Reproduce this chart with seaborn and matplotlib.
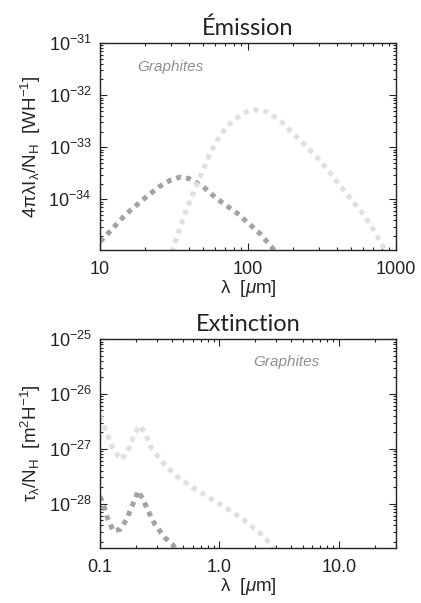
import numpy as np
import pandas as pd
import seaborn as sns
import matplotlib
matplotlib.use("Agg")
import matplotlib.pyplot as plt
from matplotlib.ticker import FixedLocator, LogLocator, NullFormatter, FuncFormatter

# ---- Emission spectra (wavelength in micron, log10 of 4*pi*lambda*I/NH) ----
em_small_wl = [10, 12, 15, 20, 25, 30, 35, 40, 50, 60, 70, 85, 100, 120, 148, 160]
em_small_log = [-34.81, -34.58, -34.28, -33.98, -33.76, -33.63, -33.57, -33.60,
                -33.76, -33.96, -34.10, -34.27, -34.45, -34.65, -34.95, -35.05]
em_big_wl = [29, 31, 33.8, 37.5, 41.6, 47.4, 55.4, 64.7, 79.4, 97.7, 111, 134,
             164, 202, 249, 306, 377, 464, 571, 685, 821, 860]
em_big_log = [-35.2, -34.97, -34.65, -34.27, -33.95, -33.57, -33.12, -32.77,
              -32.48, -32.32, -32.28, -32.32, -32.48, -32.74, -32.99, -33.25,
              -33.57, -33.89, -34.20, -34.52, -34.91, -35.05]

# ---- Extinction curves (wavelength in micron, log10 of tau/NH) ----
ext_big_wl = [0.1, 0.114, 0.129, 0.152, 0.178, 0.196, 0.216, 0.238, 0.270,
              0.338, 0.437, 0.60, 0.83, 1.14, 1.58, 2.17, 2.72, 3.0]
ext_big_log = [-26.41, -26.71, -27.02, -27.20, -26.96, -26.71, -26.58, -26.71,
               -26.99, -27.26, -27.50, -27.71, -27.90, -28.08, -28.29, -28.53,
               -28.75, -28.9]
ext_small_wl = [0.1, 0.107, 0.114, 0.129, 0.147, 0.167, 0.19, 0.209, 0.23,
                0.254, 0.288, 0.349, 0.41, 0.45]
ext_small_log = [-27.87, -28.02, -28.23, -28.50, -28.47, -28.29, -27.99, -27.77,
                 -27.93, -28.14, -28.38, -28.62, -28.76, -28.9]

em_ticks = [1e-34, 1e-33, 1e-32, 1e-31]
ext_ticks = [1e-28, 1e-27, 1e-26, 1e-25]
em_xticks = [10, 100, 1000]
em_xlabels = ["10", "100", "1000"]
ext_xticks = [0.1, 1.0, 10.0]
ext_xlabels = ["0.1", "1.0", "10.0"]

DARK = "#a3a3a3"
LIGHT = "#e0e0e0"

sns.set_theme(style="ticks")
plt.rcParams.update({
    "font.family": ["Liberation Sans", "DejaVu Sans"],
    "mathtext.fontset": "custom",
    "mathtext.rm": "Liberation Sans",
    "mathtext.it": "Liberation Sans:italic",
    "mathtext.bf": "Liberation Sans:bold",
    "xtick.direction": "in",
    "ytick.direction": "in",
    "xtick.top": True,
    "ytick.right": True,
    "xtick.major.size": 5,
    "ytick.major.size": 5,
    "xtick.minor.size": 2.5,
    "ytick.minor.size": 2.5,
    "xtick.major.width": 0.8,
    "ytick.major.width": 0.8,
    "xtick.minor.width": 0.8,
    "ytick.minor.width": 0.8,
    "axes.linewidth": 1.0,
    "axes.edgecolor": "#222222",
    "xtick.color": "#222222",
    "ytick.color": "#222222",
    "text.color": "#222222",
})

fig = plt.figure(figsize=(4.21, 6.03), dpi=100)
ax1 = fig.add_axes([0.2375, 0.5854, 0.703, 0.3433])
ax2 = fig.add_axes([0.2375, 0.0912, 0.703, 0.3466])


def draw(ax, wl, logv, color):
    df = pd.DataFrame({"wl": wl, "v": 10.0 ** np.asarray(logv)})
    sns.lineplot(data=df, x="wl", y="v", ax=ax, color=color, lw=3.6,
                 sort=False, estimator=None)
    ln = ax.lines[-1]
    ln.set_dashes((1.0, 1.0))
    ln.set_dash_capstyle("butt")


def sci(v, pos):
    return r"10$^{%d}$" % int(round(np.log10(v)))


def style(ax, xlim, ylim, yticks, xticks, xlabels, ylabel, title, note_xy):
    ax.set_xscale("log")
    ax.set_yscale("log")
    ax.set_xlim(*xlim)
    ax.set_ylim(*ylim)
    ax.yaxis.set_major_locator(FixedLocator(yticks))
    ax.yaxis.set_major_formatter(FuncFormatter(sci))
    ax.yaxis.set_minor_locator(LogLocator(base=10, subs=np.arange(2, 10)))
    ax.yaxis.set_minor_formatter(NullFormatter())
    ax.xaxis.set_major_locator(FixedLocator(xticks))
    ax.set_xticklabels(xlabels)
    ax.xaxis.set_minor_locator(LogLocator(base=10, subs=np.arange(2, 10)))
    ax.xaxis.set_minor_formatter(NullFormatter())
    ax.tick_params(axis="both", which="major", labelsize=13, pad=6)
    ax.tick_params(axis="x", which="major", pad=8)
    ax.set_xlabel("λ  [$\\mu$m]", fontsize=13.5, labelpad=0)
    ax.set_ylabel(ylabel, fontsize=13.5, labelpad=4)
    ax.set_title(title, fontsize=17, family=["Lato", "DejaVu Sans"], pad=6)
    ax.text(note_xy[0], note_xy[1], "Graphites", transform=ax.transAxes,
            fontsize=11, style="italic", color="#8f8f8f", va="center", ha="left")


draw(ax1, em_small_wl, em_small_log, DARK)
draw(ax1, em_big_wl, em_big_log, LIGHT)
style(ax1, (10, 1000), (1.07e-35, 1e-31), em_ticks, em_xticks, em_xlabels,
      "4πλI$_{\\mathrm{λ}}$/N$_{\\mathrm{H}}$  [WH$^{-1}$]", "Émission", (0.125, 0.884))

draw(ax2, ext_big_wl, ext_big_log, LIGHT)
draw(ax2, ext_small_wl, ext_small_log, DARK)
style(ax2, (0.1, 30), (1.55e-29, 1e-25), ext_ticks, ext_xticks, ext_xlabels,
      "τ$_{\\mathrm{λ}}$/N$_{\\mathrm{H}}$  [m$^{2}$H$^{-1}$]", "Extinction", (0.517, 0.89))

fig.savefig("out.png", dpi=100)
